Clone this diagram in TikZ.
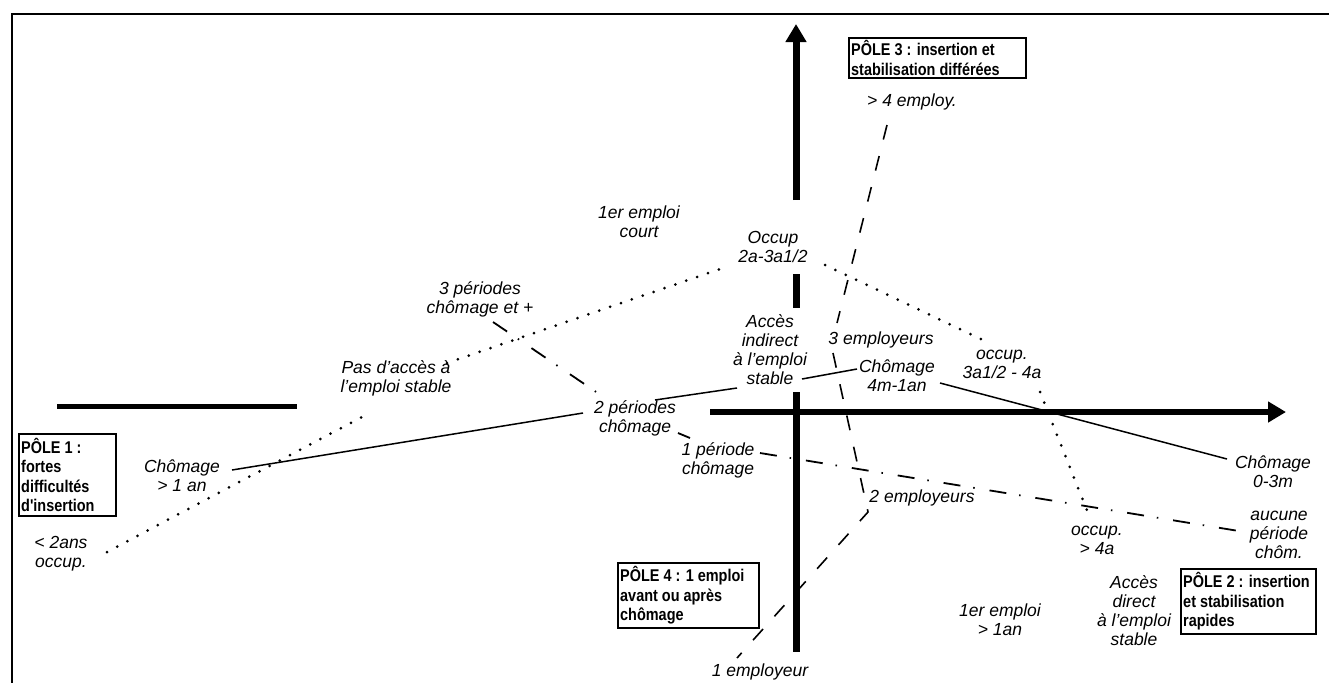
\documentclass[tikz,border=0pt]{standalone}
\usepackage{fontspec}
\setmainfont{Liberation Sans}
\newfontfamily\polefont[FakeStretch=0.85]{Liberation Sans}
\usetikzlibrary{arrows.meta}
\begin{document}
\begin{tikzpicture}[x=1pt,y=-1pt,
  lab/.style={font=\itshape\fontsize{17.5}{19}\selectfont, align=center, inner sep=1pt},
  polebox/.style={draw, line width=1.6pt, inner sep=0pt, anchor=north west},
  poletext/.style={font=\polefont\bfseries\fontsize{17}{19.5}\selectfont, align=left, inner sep=0pt, anchor=west},
  axisline/.style={line width=7pt},
  axistip/.style={-{Triangle[width=20pt,length=18pt]}},
  solidlink/.style={line width=1.5pt},
  dotlink/.style={line width=3pt, line cap=round, dash pattern=on 0pt off 11.5pt},
  dashdotlink/.style={line width=1.8pt, dash pattern=on 17pt off 13pt on 1.5pt off 15pt},
  dashlink/.style={line width=1.6pt, dash pattern=on 15pt off 17pt},
]
\useasboundingbox (0,0) rectangle (1329,683);

% frame
\draw[line width=2pt] (1329,14) -- (12,14) -- (12,683);

% axes
\draw[axisline, axistip] (796,200) -- (796,24);
\draw[axisline] (796,274) -- (796,308);
\draw[axisline] (796,392) -- (796,652);
\draw[line width=6pt, axistip] (710,412) -- (1286,412);
\draw[line width=5pt] (57,406) -- (297,406);

% labels
\node[lab] (court)   at (639,222) {1er emploi\\court};
\node[lab] (occ2a)   at (773,247) {Occup\\2a-3a1/2};
\node[lab] (per3)    at (480,299) {3 périodes\\chômage et +};
\node[lab] (pasacc)  at (396,378) {Pas d'accès à\\l'emploi stable};
\node[lab] (accind)  at (770,350) {Accès\\indirect\\à l'emploi\\stable};
\node[lab] (emp3)    at (881,340) {3 employeurs};
\node[lab] (ch4m)    at (897,376) {Chômage\\4m-1an};
\node[lab] (occ3a)   at (1002,364) {occup.\\3a1/2 - 4a};
\node[lab] (per2)    at (635,418) {2 périodes\\chômage};
\node[lab] (per1)    at (718,460) {1 période\\chômage};
\node[lab] (ch1an)   at (182,476) {Chômage\\> 1 an};
\node[lab] (occ2ans) at (61,554) {< 2ans\\occup.};
\node[lab] (emp4)    at (912,102) {> 4 employ.};
\node[lab] (emp2)    at (922,498) {2 employeurs};
\node[lab] (ch03)    at (1273,472) {Chômage\\0-3m};
\node[lab] (aucune)  at (1279,535) {aucune\\période\\chôm.};
\node[lab] (occ4a)   at (1097,540) {occup.\\> 4a};
\node[lab] (accdir)  at (1134,611) {Accès\\direct\\à l'emploi\\stable};
\node[lab] (emp1an)  at (1000,620) {1er emploi\\> 1an};
\node[lab] (emp1)    at (760,672) {1 employeur};

% pole boxes
\node[polebox, minimum width=97pt, minimum height=82pt] (p1) at (18,433) {};
\node[poletext] (p1t) at ([xshift=3pt]p1.west) {PÔLE 1 :\\fortes\\difficultés\\d'insertion};
\node[polebox, minimum width=177pt, minimum height=40pt] (p3) at (848,37) {};
\node[poletext] (p3t) at ([xshift=3pt]p3.west) {PÔLE 3 : insertion et\\stabilisation différées};
\node[polebox, minimum width=141pt, minimum height=65pt] (p4) at (617,562) {};
\node[poletext] (p4t) at ([xshift=3pt]p4.west) {PÔLE 4 : 1 emploi\\avant ou après\\chômage};
\node[polebox, minimum width=135pt, minimum height=65pt] (p2) at (1180,568) {};
\node[poletext] (p2t) at ([xshift=3pt]p2.west) {PÔLE 2 : insertion\\et stabilisation\\rapides};

% unemployment duration (solid)
\draw[solidlink] ([shift={(50,-6)}]ch1an.center) -- ([shift={(-52,-5)}]per2.center);
\draw[solidlink] ([shift={(20,-18)}]per2.center) -- ([shift={(-33,38)}]accind.center);
\draw[solidlink] ([shift={(32,29)}]accind.center) -- ([shift={(-40,-7)}]ch4m.center);
\draw[solidlink] ([shift={(43,7)}]ch4m.center) -- ([shift={(-46,-13)}]ch03.center);

% time in employment (dotted)
\draw[dotlink] ([shift={(46,-2)}]occ2ans.center) -- ([shift={(-34,39)}]pasacc.center);
\draw[dotlink] ([shift={(51,-15)}]pasacc.center) -- ([shift={(-50,21)}]occ2a.center);
\draw[dotlink] ([shift={(52,18)}]occ2a.center) -- ([shift={(-15,-22)}]occ3a.center);
\draw[dotlink] ([shift={(38,28)}]occ3a.center) -- ([shift={(-9,-27)}]occ4a.center);

% number of unemployment spells (dash-dot)
\draw[dashdotlink] ([shift={(13,23)}]per3.center) -- ([shift={(-30,-20)}]per2.center);
\draw[dashdotlink] ([shift={(43,15)}]per2.center) -- ([shift={(-28,-22)}]per1.center);
\draw[dashdotlink] ([shift={(42,-7)}]per1.center) -- ([shift={(-34,-3)}]aucune.center);

% number of employers (dashed)
\draw[dashlink] ([shift={(-25,23)}]emp4.center) -- ([shift={(-44,-17)}]emp3.center);
\draw[dashlink] ([shift={(-48,13)}]emp3.center) -- ([shift={(-54,14)}]emp2.center) -- ([shift={(-23,-14)}]emp1.center);

\end{tikzpicture}
\end{document}
